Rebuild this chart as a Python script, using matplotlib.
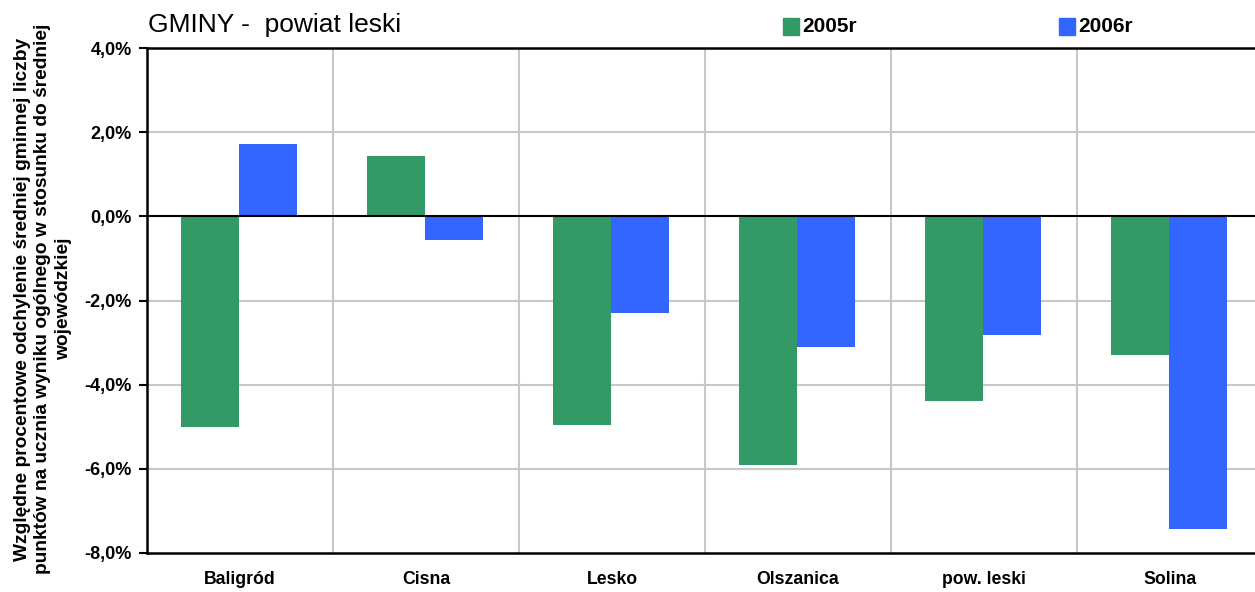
import numpy as np
import matplotlib
matplotlib.use("Agg")
import matplotlib.pyplot as plt
from matplotlib.patches import Rectangle

plt.rcParams["font.family"] = ["Liberation Sans", "DejaVu Sans"]

gminy = ["Baligród", "Cisna", "Lesko", "Olszanica", "pow. leski", "Solina"]
r2005 = [-5.0, 1.43, -4.95, -5.9, -4.38, -3.29]
r2006 = [1.71, -0.57, -2.29, -3.1, -2.81, -7.43]
yticks = [4, 2, 0, -2, -4, -6, -8]

GREEN = "#339966"
BLUE = "#3366ff"
GRID = "#c8c8c8"

W, H = 1255, 592
fig = plt.figure(figsize=(W / 100, H / 100), dpi=100)
ax = fig.add_axes([147 / W, 1 - 553 / H, (1263 - 147) / W, (553 - 48) / H])

x = np.arange(len(gminy))
bw = 0.312
ax.bar(x - bw / 2 - 0.005, r2005, width=bw, color=GREEN, zorder=3)
ax.bar(x + bw / 2 - 0.005, r2006, width=bw, color=BLUE, zorder=3)

ax.set_xlim(-0.5, len(gminy) - 0.5)
ax.set_ylim(-8, 4)
ax.set_yticks(yticks)
ax.set_yticklabels([f"{v:.1f}%".replace(".", ",") for v in yticks],
                   fontweight="bold", fontsize=13)
ax.set_xticks(x)
ax.set_xticklabels(gminy, fontweight="bold", fontsize=12.7)
ax.tick_params(axis="x", length=0, pad=13)
ax.tick_params(axis="y", length=6, width=1.5, direction="out", pad=5)

# grid
for v in yticks:
    if v not in (0, 4, -8):
        ax.axhline(v, color=GRID, lw=1.5, zorder=1)
for b in np.arange(0.5, len(gminy) - 0.5, 1):
    ax.axvline(b, color=GRID, lw=1.5, zorder=1)
ax.axhline(0, color="black", lw=1.5, zorder=4)

for s in ["left", "bottom", "top"]:
    ax.spines[s].set_linewidth(1.8)
    ax.spines[s].set_color("black")
ax.spines["right"].set_visible(False)

fig.text(148 / W, 1 - 25 / H, "GMINY -  powiat leski", fontsize=19,
         ha="left", va="center")

# legend
for px, lab, col in [(783, "2005r", GREEN), (1059, "2006r", BLUE)]:
    fig.patches.append(Rectangle((px / W, 1 - 35 / H), 16 / W, 17 / H,
                                 transform=fig.transFigure, color=col))
    fig.text((px + 19) / W, 1 - 26 / H, lab, fontsize=15, fontweight="bold",
             ha="left", va="center")

fig.text(43 / W, 1 - 299 / H,
         "Względne procentowe odchylenie średniej gminnej liczby\n"
         "punktów na ucznia wyniku ogólnego w stosunku do średniej\n"
         "wojewódzkiej",
         rotation=90, ha="center", va="center", multialignment="center",
         fontsize=13.8, fontweight="bold", linespacing=1.28)

fig.savefig("out.png", dpi=100)
